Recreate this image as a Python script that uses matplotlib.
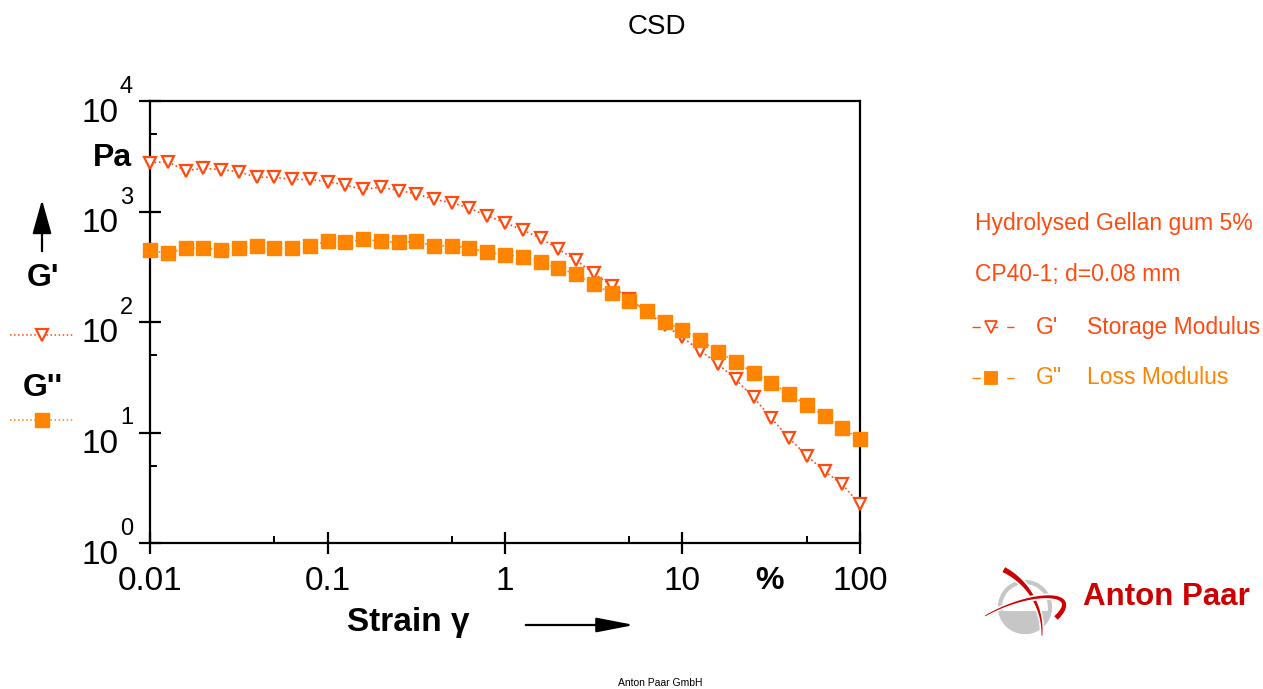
import numpy as np
import matplotlib
matplotlib.use('Agg')
import matplotlib.pyplot as plt
from matplotlib import patches
from matplotlib.lines import Line2D
from matplotlib.transforms import offset_copy

plt.rcParams['font.family'] = ['Liberation Sans', 'DejaVu Sans']

# strain in %, 10 points per decade
strain = 10 ** np.linspace(-2, 2, 41)

# log10 of G' (storage modulus), Pa
log_g1 = [3.44, 3.45, 3.37, 3.39, 3.38, 3.36, 3.31, 3.31, 3.29, 3.29,
          3.27, 3.24, 3.20, 3.22, 3.19, 3.16, 3.11, 3.08, 3.03, 2.96,
          2.90, 2.83, 2.76, 2.66, 2.56, 2.44, 2.33, 2.21, 2.09, 1.97,
          1.86, 1.74, 1.62, 1.48, 1.32, 1.13, 0.95, 0.79, 0.65, 0.53, 0.35]
# log10 of G'' (loss modulus), Pa
log_g2 = [2.65, 2.62, 2.67, 2.67, 2.65, 2.67, 2.69, 2.67, 2.67, 2.69,
          2.73, 2.72, 2.75, 2.73, 2.72, 2.73, 2.69, 2.69, 2.67, 2.63,
          2.61, 2.59, 2.54, 2.49, 2.43, 2.34, 2.26, 2.19, 2.10, 2.00,
          1.93, 1.84, 1.73, 1.64, 1.54, 1.45, 1.35, 1.25, 1.15, 1.04, 0.94]
g1 = 10 ** np.array(log_g1)
g2 = 10 ** np.array(log_g2)

x_ticks = [0.01, 0.1, 1, 10, 100]
x_labels = ['0.01', '0.1', '1', '10', '100']
y_ticks = [1, 10, 100, 1000, 10000]
y_exps = ['0', '1', '2', '3', '4']

c_g1 = '#ff4a10'
c_g2 = '#ff8400'

W, H = 1263, 689
def fx(x):
    return x / W
def fy(y):
    return 1 - y / H

fig = plt.figure(figsize=(W / 100, H / 100), dpi=100)
ax = fig.add_axes([fx(150), fy(543), 710 / W, 442 / H])

ax.plot(strain, g1, ls=':', lw=1.2, color=c_g1, marker='v', ms=8.5,
        mfc='white', mec=c_g1, mew=1.6, clip_on=False, zorder=3)
ax.plot(strain, g2, ls=':', lw=1.2, color=c_g2, marker='s', ms=9.5,
        mfc=c_g2, mec=c_g2, clip_on=False, zorder=4)

ax.set_xscale('log')
ax.set_yscale('log')
ax.set_xlim(0.01, 100)
ax.set_ylim(1, 10000)
for s in ax.spines.values():
    s.set_linewidth(1.6)

ax.set_xticks(x_ticks)
ax.set_xticks([0.05, 0.5, 5, 50], minor=True)
ax.set_yticks(y_ticks)
ax.set_yticks([5, 50, 500, 5000], minor=True)
ax.set_xticklabels([])
ax.set_yticklabels([])
ax.tick_params(which='major', direction='inout', length=16, width=1.6)
ax.tick_params(which='minor', direction='in', length=5, width=1.4)

# tick labels drawn as text
for xv, lab in zip(x_ticks, x_labels):
    ax.text(xv, -0.087, lab, transform=ax.get_xaxis_transform(),
            ha='center', va='center', fontsize=24)
ax.text(0.873, -0.087, '%', transform=ax.transAxes, ha='center', va='center',
        fontsize=23, fontweight='bold')
ytr = ax.get_yaxis_transform()
for yv, e in zip(y_ticks, y_exps):
    t1 = offset_copy(ytr, fig=fig, x=-32, y=-12, units='dots')
    ax.text(0, yv, '10', transform=t1, ha='right', va='center', fontsize=24)
    t2 = offset_copy(ytr, fig=fig, x=-30, y=14, units='dots')
    ax.text(0, yv, e, transform=t2, ha='left', va='center', fontsize=17)

# title and axis captions
fig.text(fx(657), fy(27), 'CSD', ha='center', va='center', fontsize=20)
fig.text(fx(112), fy(158), 'Pa', ha='center', va='center', fontsize=23,
         fontweight='bold')
fig.text(fx(408), fy(623), 'Strain γ', ha='center', va='center', fontsize=24,
         fontweight='bold')
fig.text(fx(660), fy(683), 'Anton Paar GmbH', ha='center', va='center',
         fontsize=7.5)

fig.add_artist(patches.FancyArrowPatch((fx(42), fy(254)), (fx(42), fy(197)),
               transform=fig.transFigure, arrowstyle='-|>,head_length=1.5,head_width=0.42',
               mutation_scale=14, lw=1.6, color='black'))
fig.add_artist(patches.FancyArrowPatch((fx(523), fy(625)), (fx(637), fy(625)),
               transform=fig.transFigure, arrowstyle='-|>,head_length=1.65,head_width=0.32',
               mutation_scale=14, lw=1.6, color='black'))

# left-side legend
fig.text(fx(43), fy(278), "G'", ha='center', va='center', fontsize=23,
         fontweight='bold')
fig.text(fx(43), fy(388), "G''", ha='center', va='center', fontsize=23,
         fontweight='bold')
fig.add_artist(Line2D([fx(10), fx(74)], [fy(335), fy(335)], ls=':', lw=1.1,
                      color=c_g1, transform=fig.transFigure))
fig.add_artist(Line2D([fx(42)], [fy(335)], marker='v', ms=8.5, mfc='white',
                      mec=c_g1, mew=1.6, transform=fig.transFigure))
fig.add_artist(Line2D([fx(10), fx(74)], [fy(420), fy(420)], ls=':', lw=1.1,
                      color=c_g2, transform=fig.transFigure))
fig.add_artist(Line2D([fx(42)], [fy(420)], marker='s', ms=9.5, mfc=c_g2,
                      mec=c_g2, transform=fig.transFigure))

# right-side legend
fig.text(fx(975), fy(223), 'Hydrolysed Gellan gum 5%', ha='left', va='center',
         fontsize=16.5, color=c_g1)
fig.text(fx(975), fy(274), 'CP40-1; d=0.08 mm', ha='left', va='center',
         fontsize=16.5, color=c_g1)
rows = [(327, c_g1, 'v', 'white', "G'", 'Storage Modulus'),
        (378, c_g2, 's', c_g2, 'G"', 'Loss Modulus')]
for y, c, m, fc, name, desc in rows:
    fig.add_artist(Line2D([fx(972), fx(1014)], [fy(y), fy(y)], ls=(0, (6, 6.5)),
                          lw=1.0, color=c, transform=fig.transFigure))
    fig.add_artist(Line2D([fx(991)], [fy(y)], marker=m, ms=8, mfc=fc, mec=c,
                          mew=1.3, transform=fig.transFigure))
    fig.text(fx(1036), fy(y), name, ha='left', va='center', fontsize=16.5, color=c)
    fig.text(fx(1087), fy(y), desc, ha='left', va='center', fontsize=16.5, color=c)

# logo (pixel coordinates)
lax = fig.add_axes([fx(970), fy(642), 110 / W, 90 / H])
lax.set_xlim(970, 1080)
lax.set_ylim(642, 552)
lax.axis('off')
grey = '#c6c6c6'
red = '#cc0000'
cx, cy, r = 1025, 607, 27
lax.add_patch(patches.Circle((cx, cy), r - 2, fill=False, lw=3, ec=grey))
th = np.linspace(0.15, np.pi - 0.15, 60)
fill_pts = np.column_stack([cx + r * np.cos(th), cy + r * np.sin(th)])
lax.add_patch(patches.Polygon(fill_pts, closed=True, fc=grey, ec='none'))


def band(pts, w0, w1):
    pts = np.asarray(pts)
    d = np.gradient(pts, axis=0)
    n = np.column_stack([-d[:, 1], d[:, 0]])
    n /= np.linalg.norm(n, axis=1)[:, None]
    w = np.linspace(w0, w1, len(pts))[:, None] / 2
    return np.vstack([pts + n * w, (pts - n * w)[::-1]])


# crescent from top-left down to bottom right
a = np.radians(np.linspace(-63, 3, 60))
cres = np.column_stack([972 + 70 * np.cos(a), 632 + 70 * np.sin(a)])
lax.add_patch(patches.Polygon(band(cres, 9, 4), closed=True, fc='white', ec='none'))
lax.add_patch(patches.Polygon(band(cres, 5.5, 0.8), closed=True, fc=red, ec='none'))

# horizontal swoosh
t = np.linspace(0, 1, 80)[:, None]
p0, p1, p2, p3 = (np.array(v) for v in [(985, 616), (1030, 590), (1085, 590), (1056, 618)])
swo = (1 - t) ** 3 * p0 + 3 * (1 - t) ** 2 * t * p1 + 3 * (1 - t) * t ** 2 * p2 + t ** 3 * p3
lax.add_patch(patches.Polygon(band(swo, 4, 9), closed=True, fc='white', ec='none'))
lax.add_patch(patches.Polygon(band(swo, 0.8, 5), closed=True, fc=red, ec='none'))

fig.text(fx(1083), fy(597), 'Anton Paar', ha='left', va='center', fontsize=22.5,
         fontweight='bold', color=red)

fig.savefig('out.png', dpi=100)
